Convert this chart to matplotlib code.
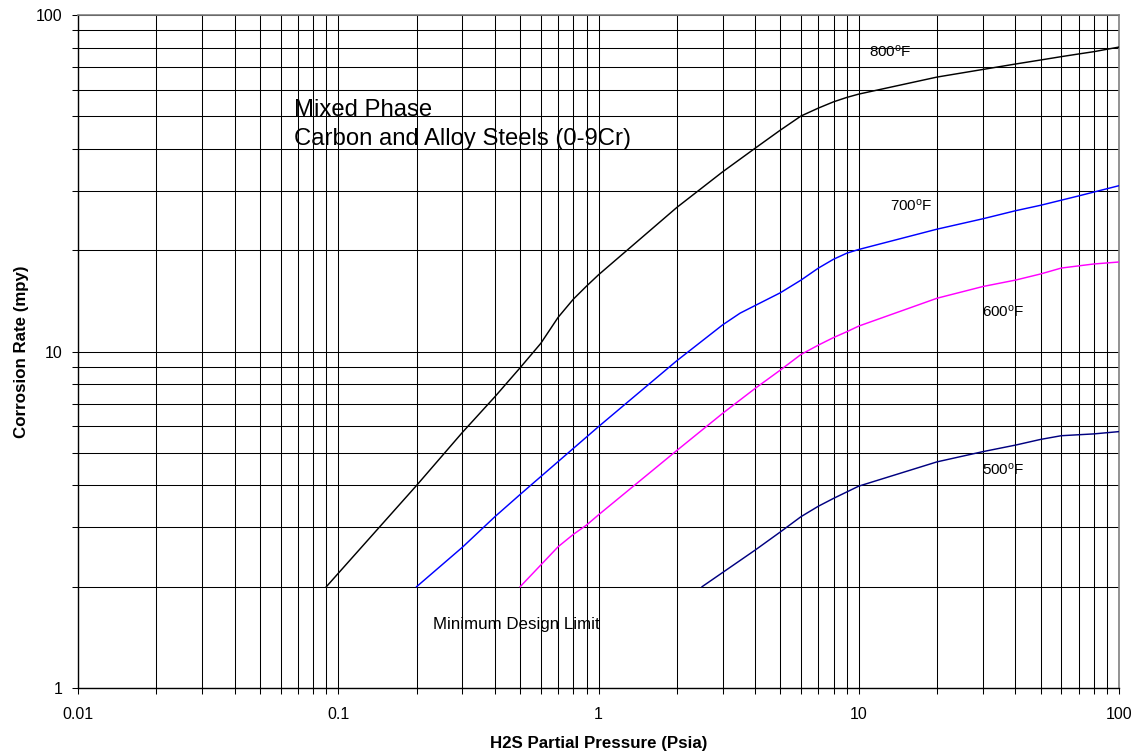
import matplotlib
matplotlib.use("Agg")
import matplotlib.pyplot as plt
from matplotlib.ticker import FixedLocator, FixedFormatter, NullFormatter

plt.rcParams["font.family"] = ["Liberation Sans", "DejaVu Sans"]
plt.rcParams["mathtext.fontset"] = "custom"
plt.rcParams["mathtext.rm"] = "Liberation Sans"
plt.rcParams["mathtext.it"] = "Liberation Sans:italic"
plt.rcParams["mathtext.bf"] = "Liberation Sans:bold"

# H2S partial pressure (psia) vs corrosion rate (mpy) for each temperature
p_800 = [0.09, 0.2, 0.3, 0.4, 0.5, 0.6, 0.7, 0.8, 0.9, 1, 2, 3, 4, 5, 6, 7, 8, 9, 10,
         20, 30, 40, 50, 60, 70, 80, 100]
r_800 = [2.0, 4.0, 5.75, 7.34, 8.95, 10.57, 12.64, 14.3, 15.65, 16.9, 26.8, 34.2, 40.2,
         45.5, 50.1, 52.9, 55.2, 56.9, 58.2, 65.4, 68.9, 71.5, 73.5, 75.2, 76.6, 77.8, 80.3]

p_700 = [0.2, 0.3, 0.4, 0.5, 0.7, 1, 2, 3, 3.5, 4, 5, 6, 7, 8, 9, 10, 20, 30, 40, 50, 70, 100]
r_700 = [2.0, 2.62, 3.23, 3.76, 4.71, 5.98, 9.39, 12.0, 13.0, 13.7, 14.95, 16.3, 17.7,
         18.8, 19.6, 20.1, 23.1, 24.8, 26.2, 27.2, 29.0, 31.1]

p_600 = [0.5, 0.6, 0.7, 0.8, 0.9, 1, 2, 3, 4, 5, 6, 7, 8, 9, 10, 20, 30, 40, 50, 60, 80, 100]
r_600 = [2.0, 2.32, 2.63, 2.86, 3.05, 3.27, 5.08, 6.55, 7.77, 8.81, 9.8, 10.45, 11.0,
         11.45, 11.9, 14.4, 15.6, 16.3, 17.0, 17.7, 18.2, 18.45]

p_500 = [2.5, 4, 5, 6, 7, 8, 10, 20, 30, 40, 50, 60, 80, 100]
r_500 = [2.0, 2.57, 2.91, 3.23, 3.47, 3.66, 3.98, 4.7, 5.04, 5.27, 5.48, 5.62, 5.69, 5.78]

x_ticks = [0.01, 0.1, 1, 10, 100]
x_tick_labels = ["0.01", "0.1", "1", "10", "100"]
y_ticks = [1, 10, 100]
y_tick_labels = ["1", "10", "100"]

series = [
    (p_800, r_800, "#000000", r"800$^{\mathrm{o}}$F", (10.95, 75.0)),
    (p_700, r_700, "#0000FF", r"700$^{\mathrm{o}}$F", (13.2, 26.3)),
    (p_600, r_600, "#FF00FF", r"600$^{\mathrm{o}}$F", (29.8, 12.7)),
    (p_500, r_500, "#000080", r"500$^{\mathrm{o}}$F", (29.8, 4.30)),
]

W, H = 1140, 755
fig = plt.figure(figsize=(W / 100, H / 100), dpi=100)
ax = fig.add_axes([78 / W, 1 - 688 / H, (1119 - 78) / W, (688 - 15) / H])
ax.set_xscale("log")
ax.set_yscale("log")
ax.set_xlim(0.01, 100)
ax.set_ylim(1, 100)

for px, ry, color, label, pos in series:
    ax.plot(px, ry, color=color, lw=1.05, zorder=3, solid_joinstyle="round")
    ax.text(pos[0], pos[1], label, fontsize=11, ha="left", va="baseline", zorder=4)

# grid lines at every decade and sub-decade value
x_minor = [m * 10.0 ** e for e in range(-2, 2) for m in range(2, 10)]
y_minor = [m * 10.0 ** e for e in range(0, 2) for m in range(2, 10)]
ax.xaxis.set_major_locator(FixedLocator(x_ticks))
ax.xaxis.set_major_formatter(FixedFormatter(x_tick_labels))
ax.xaxis.set_minor_locator(FixedLocator(x_minor))
ax.xaxis.set_minor_formatter(NullFormatter())
ax.yaxis.set_major_locator(FixedLocator(y_ticks))
ax.yaxis.set_major_formatter(FixedFormatter(y_tick_labels))
ax.yaxis.set_minor_locator(FixedLocator(y_minor))
ax.yaxis.set_minor_formatter(NullFormatter())
ax.grid(True, which="both", color="#000000", lw=0.75, zorder=1)
ax.set_axisbelow(True)

ax.tick_params(which="both", direction="out", length=4.5, width=0.75, color="#000000",
               labelsize=11.5)
ax.tick_params(axis="x", which="major", pad=9.5)
ax.tick_params(axis="y", which="major", pad=6.5)

for side in ("top", "right"):
    ax.spines[side].set_color("#808080")
    ax.spines[side].set_linewidth(1.2)
for side in ("left", "bottom"):
    ax.spines[side].set_color("#000000")
    ax.spines[side].set_linewidth(1.0)

ax.set_xlabel("H2S Partial Pressure (Psia)", fontsize=12.2, fontweight="bold", labelpad=10)
ax.set_ylabel("Corrosion Rate (mpy)", fontsize=12.2, fontweight="bold")
ax.yaxis.set_label_coords(-0.047, 0.5)

ax.text(0.0676, 50.1, "Mixed Phase", fontsize=17.2, ha="left", va="baseline", zorder=4)
ax.text(0.0676, 41.1, "Carbon and Alloy Steels (0-9Cr)", fontsize=17.2, ha="left",
        va="baseline", zorder=4)
ax.text(0.231, 1.50, "Minimum Design Limit", fontsize=12.2, ha="left", va="baseline", zorder=4)

fig.savefig("out.png", dpi=100)
